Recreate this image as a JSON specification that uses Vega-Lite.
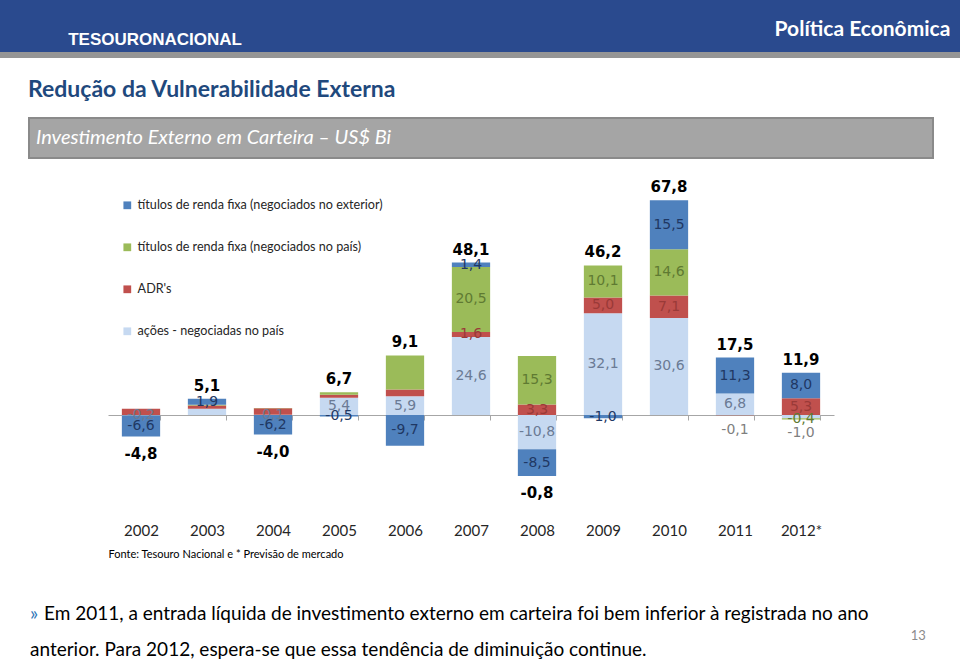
{
  "$schema": "https://vega.github.io/schema/vega-lite/v6.json",
  "padding": 0,
  "background": "white",
  "spacing": 0,
  "config": {
    "view": {"stroke": null},
    "locale": {"number": {"decimal": ",", "thousands": ".", "grouping": [3], "currency": ["", ""], "minus": "-"}},
    "font": "Lato, sans-serif"
  },
  "datasets": {
    "bars": [
      {"year": "2002", "serie": "ações  - negociadas no país", "value": -0.2},
      {"year": "2002", "serie": "ADR's", "value": 2.0},
      {"year": "2002", "serie": "títulos de renda fixa (negociados no país)", "value": 0.0},
      {"year": "2002", "serie": "títulos de renda fixa (negociados no exterior)", "value": -6.6},
      {"year": "2003", "serie": "ações  - negociadas no país", "value": 2.0},
      {"year": "2003", "serie": "ADR's", "value": 1.0},
      {"year": "2003", "serie": "títulos de renda fixa (negociados no país)", "value": 0.2},
      {"year": "2003", "serie": "títulos de renda fixa (negociados no exterior)", "value": 1.9},
      {"year": "2004", "serie": "ações  - negociadas no país", "value": 0.1},
      {"year": "2004", "serie": "ADR's", "value": 2.0},
      {"year": "2004", "serie": "títulos de renda fixa (negociados no país)", "value": 0.1},
      {"year": "2004", "serie": "títulos de renda fixa (negociados no exterior)", "value": -6.2},
      {"year": "2005", "serie": "ações  - negociadas no país", "value": 5.4},
      {"year": "2005", "serie": "ADR's", "value": 1.0},
      {"year": "2005", "serie": "títulos de renda fixa (negociados no país)", "value": 0.8},
      {"year": "2005", "serie": "títulos de renda fixa (negociados no exterior)", "value": -0.5},
      {"year": "2006", "serie": "ações  - negociadas no país", "value": 5.9},
      {"year": "2006", "serie": "ADR's", "value": 2.1},
      {"year": "2006", "serie": "títulos de renda fixa (negociados no país)", "value": 10.8},
      {"year": "2006", "serie": "títulos de renda fixa (negociados no exterior)", "value": -9.7},
      {"year": "2007", "serie": "ações  - negociadas no país", "value": 24.6},
      {"year": "2007", "serie": "ADR's", "value": 1.6},
      {"year": "2007", "serie": "títulos de renda fixa (negociados no país)", "value": 20.5},
      {"year": "2007", "serie": "títulos de renda fixa (negociados no exterior)", "value": 1.4},
      {"year": "2008", "serie": "ações  - negociadas no país", "value": -10.8},
      {"year": "2008", "serie": "ADR's", "value": 3.3},
      {"year": "2008", "serie": "títulos de renda fixa (negociados no país)", "value": 15.3},
      {"year": "2008", "serie": "títulos de renda fixa (negociados no exterior)", "value": -8.5},
      {"year": "2009", "serie": "ações  - negociadas no país", "value": 32.1},
      {"year": "2009", "serie": "ADR's", "value": 5.0},
      {"year": "2009", "serie": "títulos de renda fixa (negociados no país)", "value": 10.1},
      {"year": "2009", "serie": "títulos de renda fixa (negociados no exterior)", "value": -1.0},
      {"year": "2010", "serie": "ações  - negociadas no país", "value": 30.6},
      {"year": "2010", "serie": "ADR's", "value": 7.1},
      {"year": "2010", "serie": "títulos de renda fixa (negociados no país)", "value": 14.6},
      {"year": "2010", "serie": "títulos de renda fixa (negociados no exterior)", "value": 15.5},
      {"year": "2011", "serie": "ações  - negociadas no país", "value": 6.8},
      {"year": "2011", "serie": "ADR's", "value": -0.1},
      {"year": "2011", "serie": "títulos de renda fixa (negociados no país)", "value": 0.0},
      {"year": "2011", "serie": "títulos de renda fixa (negociados no exterior)", "value": 11.3},
      {"year": "2012*", "serie": "ações  - negociadas no país", "value": -1.0},
      {"year": "2012*", "serie": "ADR's", "value": 5.3},
      {"year": "2012*", "serie": "títulos de renda fixa (negociados no país)", "value": -0.4},
      {"year": "2012*", "serie": "títulos de renda fixa (negociados no exterior)", "value": 8.0}
    ],
    "totals": [
      {"year": "2002", "total": -4.8},
      {"year": "2003", "total": 5.1},
      {"year": "2004", "total": -4.0},
      {"year": "2005", "total": 6.7},
      {"year": "2006", "total": 9.1},
      {"year": "2007", "total": 48.1},
      {"year": "2008", "total": -0.8},
      {"year": "2009", "total": 46.2},
      {"year": "2010", "total": 67.8},
      {"year": "2011", "total": 17.5},
      {"year": "2012*", "total": 11.9}
    ]
  },
  "vconcat": [
    {
      "width": 960,
      "height": 52,
      "view": {"fill": "#2a4a8e", "stroke": null},
      "data": {"values": [{}]},
      "layer": [
        {
          "mark": {"type": "text", "align": "left", "baseline": "middle", "font": "Liberation Sans", "fontWeight": "bold", "fontSize": 17, "color": "white"},
          "encoding": {
            "text": {"value": "TESOURONACIONAL"},
            "x": {"datum": 0.071, "type": "quantitative", "scale": {"domain": [0, 1]}, "axis": null},
            "y": {"datum": 0.23, "type": "quantitative", "scale": {"domain": [0, 1]}, "axis": null}
          }
        },
        {
          "mark": {"type": "text", "align": "right", "baseline": "middle", "fontWeight": "bold", "fontSize": 21, "color": "white"},
          "encoding": {
            "text": {"value": "Política Econômica"},
            "x": {"datum": 0.99, "type": "quantitative", "scale": {"domain": [0, 1]}, "axis": null},
            "y": {"datum": 0.42, "type": "quantitative", "scale": {"domain": [0, 1]}, "axis": null}
          }
        }
      ]
    },
    {
      "width": 960,
      "height": 6,
      "view": {"fill": "#959595", "stroke": null},
      "data": {"values": []},
      "mark": {"type": "point"},
      "title": {"text": "Redução da Vulnerabilidade Externa", "orient": "bottom", "anchor": "start", "frame": "group", "dx": 28, "offset": 21, "baseline": "top", "fontSize": 23, "fontWeight": "bold", "color": "#1f497d"}
    },
    {
      "spacing": 0,
      "hconcat": [
        {"width": 28, "height": 1, "data": {"values": []}, "mark": {"type": "point"}},
        {
          "width": 904,
          "height": 40,
          "view": {"fill": "#a5a5a5", "stroke": "#8a8a8a", "strokeWidth": 2},
          "data": {"values": [{}]},
          "mark": {"type": "text", "align": "left", "baseline": "middle", "dx": 7, "fontStyle": "italic", "fontSize": 20, "color": "white"},
          "encoding": {
            "text": {"value": "Investimento Externo em Carteira – US$ Bi"},
            "x": {"datum": 0, "type": "quantitative", "scale": {"domain": [0, 1]}, "axis": {"orient": "top", "labels": false, "ticks": false, "domain": false, "grid": false, "title": null, "minExtent": 15, "maxExtent": 15}},
            "y": {"datum": 0.5, "type": "quantitative", "scale": {"domain": [0, 1]}, "axis": null}
          }
        }
      ]
    },
    {
      "spacing": 0,
      "hconcat": [
        {"width": 108, "height": 1, "data": {"values": []}, "mark": {"type": "point"}},
        {
          "width": 726,
          "height": 340,
          "data": {"name": "bars"},
          "transform": [
            {"calculate": "indexof(['ações  - negociadas no país', \"ADR's\", 'títulos de renda fixa (negociados no país)', 'títulos de renda fixa (negociados no exterior)'], datum.serie)", "as": "ord"},
            {"stack": "value", "groupby": ["year"], "sort": [{"field": "ord", "order": "ascending"}], "as": ["v0", "v1"]},
            {"calculate": "(datum.v0 + datum.v1) / 2", "as": "mid"},
            {"calculate": "(datum.year == '2011' || datum.year == '2012*') && datum.value < 0 && datum.serie != 'títulos de renda fixa (negociados no país)'", "as": "abaixo"}
          ],
          "layer": [
            {
              "mark": {"type": "bar"},
              "encoding": {
                "x": {
                  "field": "year", "type": "nominal",
                  "scale": {"paddingInner": 0.42, "paddingOuter": 0.21},
                  "axis": {"orient": "bottom", "offset": -102, "domain": true, "domainColor": "#a6a6a6", "ticks": true, "tickBand": "extent", "tickColor": "#a6a6a6", "tickSize": 5, "labelAngle": 0, "labelPadding": 103, "labelFontSize": 15, "labelColor": "#262626", "grid": false, "title": "Fonte:  Tesouro Nacional e * Previsão de mercado", "titleAnchor": "start", "titleAlign": "left", "titleFontSize": 11, "titleFontWeight": "normal", "titleColor": "#000000", "titlePadding": 10}
                },
                "y": {
                  "field": "v1", "type": "quantitative",
                  "scale": {"domain": [-32.2, 75.1], "nice": false, "zero": false},
                  "axis": null
                },
                "y2": {"field": "v0"},
                "color": {
                  "field": "serie", "type": "nominal",
                  "scale": {"domain": ["títulos de renda fixa (negociados no exterior)", "títulos de renda fixa (negociados no país)", "ADR's", "ações  - negociadas no país"], "range": ["#4f81bd", "#9bbb59", "#c0504d", "#c6d9f1"]},
                  "legend": {"orient": "none", "legendX": 13, "legendY": 22, "title": null, "symbolType": "square", "symbolSize": 60, "symbolStrokeWidth": 0, "labelFontSize": 12.6, "labelColor": "#262626", "rowPadding": 29, "labelOffset": 4, "labelLimit": 400}
                }
              }
            },
            {
              "transform": [
                {"filter": "datum.value != 0 && !datum.abaixo && !((datum.serie == \"ADR's\" || datum.serie == 'títulos de renda fixa (negociados no país)') && toNumber(substring(datum.year, 0, 4)) < 2007) && !(datum.year == '2003' && datum.serie == 'ações  - negociadas no país')"}
              ],
              "mark": {"type": "text", "font": "DejaVu Sans", "fontSize": 14, "baseline": "middle"},
              "encoding": {
                "x": {"field": "year", "type": "nominal", "axis": null},
                "y": {"field": "mid", "type": "quantitative", "axis": null},
                "text": {"field": "value", "type": "quantitative", "format": ".1f"},
                "color": {
                  "field": "serie", "type": "nominal",
                  "scale": {"domain": ["títulos de renda fixa (negociados no exterior)", "títulos de renda fixa (negociados no país)", "ADR's", "ações  - negociadas no país"], "range": ["#1f3864", "#5f7a32", "#9a3a38", "#6b7b95"]},
                  "legend": null
                }
              }
            },
            {
              "transform": [
                {"filter": "datum.abaixo"}
              ],
              "mark": {"type": "text", "font": "DejaVu Sans", "fontSize": 14, "baseline": "top", "dy": 8, "color": "#7f7f7f"},
              "encoding": {
                "x": {"field": "year", "type": "nominal", "axis": null},
                "y": {"field": "v1", "type": "quantitative", "axis": null},
                "text": {"field": "value", "type": "quantitative", "format": ".1f"}
              }
            },
            {
              "transform": [
                {"aggregate": [{"op": "max", "field": "v1", "as": "topo"}, {"op": "min", "field": "v1", "as": "base"}], "groupby": ["year"]},
                {"lookup": "year", "from": {"data": {"name": "totals"}, "key": "year", "fields": ["total"]}},
                {"filter": "datum.total >= 0"}
              ],
              "mark": {"type": "text", "font": "DejaVu Sans", "fontWeight": "bold", "fontSize": 15, "baseline": "bottom", "dy": -5, "color": "#000000"},
              "encoding": {
                "x": {"field": "year", "type": "nominal", "axis": {"orient": "top", "labels": false, "ticks": false, "domain": false, "grid": false, "title": null, "minExtent": 18, "maxExtent": 18}},
                "y": {"field": "topo", "type": "quantitative", "axis": null},
                "text": {"field": "total", "type": "quantitative", "format": ".1f"}
              }
            },
            {
              "transform": [
                {"aggregate": [{"op": "max", "field": "v1", "as": "topo"}, {"op": "min", "field": "v1", "as": "base"}], "groupby": ["year"]},
                {"lookup": "year", "from": {"data": {"name": "totals"}, "key": "year", "fields": ["total"]}},
                {"filter": "datum.total < 0"}
              ],
              "mark": {"type": "text", "font": "DejaVu Sans", "fontWeight": "bold", "fontSize": 15, "baseline": "top", "dy": 10, "color": "#000000"},
              "encoding": {
                "x": {"field": "year", "type": "nominal", "axis": null},
                "y": {"field": "base", "type": "quantitative", "axis": null},
                "text": {"field": "total", "type": "quantitative", "format": ".1f"}
              }
            }
          ],
          "resolve": {"scale": {"color": "independent"}, "axis": {"x": "independent", "y": "independent"}}
        }
      ]
    },
    {
      "spacing": 0,
      "hconcat": [
        {"width": 30, "height": 1, "data": {"values": []}, "mark": {"type": "point"}},
        {
          "width": 904,
          "height": 99,
          "data": {"values": [{}]},
          "layer": [
            {
              "mark": {"type": "text", "align": "left", "baseline": "middle", "fontSize": 19, "color": "#2e75b6"},
              "encoding": {
                "text": {"value": "»"},
                "x": {"datum": 0, "type": "quantitative", "scale": {"domain": [0, 1]}, "axis": null},
                "y": {"datum": 0.444, "type": "quantitative", "scale": {"domain": [0, 1]}, "axis": null}
              }
            },
            {
              "mark": {"type": "text", "align": "left", "baseline": "middle", "fontSize": 19, "color": "#000000"},
              "encoding": {
                "text": {"value": "Em 2011, a entrada líquida de investimento externo em carteira foi bem inferior à registrada no ano"},
                "x": {"datum": 0.0155, "type": "quantitative", "scale": {"domain": [0, 1]}, "axis": null},
                "y": {"datum": 0.444, "type": "quantitative", "scale": {"domain": [0, 1]}, "axis": null}
              }
            },
            {
              "mark": {"type": "text", "align": "left", "baseline": "middle", "fontSize": 19, "color": "#000000"},
              "encoding": {
                "text": {"value": "anterior. Para 2012,  espera-se que essa tendência de diminuição continue."},
                "x": {"datum": 0, "type": "quantitative", "scale": {"domain": [0, 1]}, "axis": null},
                "y": {"datum": 0.081, "type": "quantitative", "scale": {"domain": [0, 1]}, "axis": null}
              }
            },
            {
              "mark": {"type": "text", "align": "right", "baseline": "middle", "fontSize": 13, "color": "#8c8c8c"},
              "encoding": {
                "text": {"value": "13"},
                "x": {"datum": 0.991, "type": "quantitative", "scale": {"domain": [0, 1]}, "axis": null},
                "y": {"datum": 0.222, "type": "quantitative", "scale": {"domain": [0, 1]}, "axis": null}
              }
            }
          ]
        }
      ]
    }
  ]
}
